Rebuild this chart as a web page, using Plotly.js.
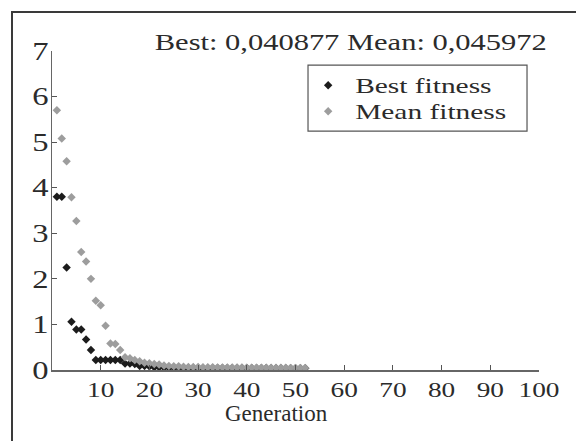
<!DOCTYPE html>
<html>
<head>
<meta charset="utf-8">
<script src="https://cdn.plot.ly/plotly-3.0.1.min.js"></script>
<style>
  html, body { margin: 0; padding: 0; background: #ffffff; }
  #chart { position: absolute; left: 0; top: 0; width: 576px; height: 441px; }
  #frame { position: absolute; left: 11px; top: 11px; width: 570px; height: 440px;
           border-top: 2px solid #3a3a3a; border-left: 2px solid #3a3a3a; pointer-events: none; }
</style>
</head>
<body>
<div id="chart"></div>
<div id="frame"></div>
<script>
// Data
const generations = [1,2,3,4,5,6,7,8,9,10,11,12,13,14,15,16,17,18,19,20,21,22,23,24,25,26,27,28,29,30,31,32,33,34,35,36,37,38,39,40,41,42,43,44,45,46,47,48,49,50,51,52];
const bestFitness = [3.80,3.80,2.25,1.06,0.89,0.89,0.67,0.44,0.22,0.22,0.22,0.22,0.22,0.22,0.14,0.14,0.13,0.09,0.09,0.08,0.06,0.06,0.055,
  0.052,0.050,0.049,0.048,0.047,0.046,0.046,0.045,0.045,0.044,0.044,0.044,0.043,0.043,0.043,0.043,0.042,0.042,0.042,0.042,0.042,0.041,0.041,0.041,0.041,0.041,0.041,0.041,0.040877];
const meanFitness = [5.70,5.08,4.58,3.79,3.27,2.59,2.38,2.00,1.52,1.42,0.97,0.58,0.57,0.44,0.28,0.26,0.22,0.19,0.16,0.15,0.13,0.12,0.10,0.09,0.085,0.08,0.072,
  0.068,0.066,0.064,0.062,0.060,0.059,0.058,0.057,0.056,0.055,0.054,0.053,0.052,0.051,0.051,0.050,0.050,0.049,0.049,0.048,0.048,0.047,0.047,0.046,0.045972];
const seriesNames = ["Best fitness", "Mean fitness"];
const titleText = "Best: 0,040877 Mean: 0,045972";
const xAxisTitle = "Generation";
const xTickValues = [10,20,30,40,50,60,70,80,90,100];
const yTickValues = [0,1,2,3,4,5,6,7];

const serif = "Liberation Serif, Times New Roman, serif";
const ink = "#2b2b2b";

const traces = [
  { x: generations, y: bestFitness, name: seriesNames[0], type: "scatter", mode: "markers",
    marker: { symbol: "diamond", size: 6.5, color: "#1c1c1c" } },
  { x: generations, y: meanFitness, name: seriesNames[1], type: "scatter", mode: "markers",
    marker: { symbol: "diamond", size: 6.5, color: "#9d9d9d" } }
];

const layout = {
  width: 576, height: 441,
  margin: { l: 52, r: 37, t: 51, b: 71, pad: 0 },
  paper_bgcolor: "rgba(0,0,0,0)",
  plot_bgcolor: "rgba(0,0,0,0)",
  showlegend: true,
  title: { text: titleText, x: 0.609, xanchor: "center", xref: "container",
           y: 0.906, yanchor: "middle", yref: "container",
           font: { family: serif, size: 24, color: ink } },
  xaxis: {
    range: [0, 100], tickvals: xTickValues, ticks: "inside", ticklen: 5, tickcolor: "#555",
    showline: true, linecolor: "#666", linewidth: 1.5, showgrid: false, zeroline: false,
    tickfont: { family: serif, size: 21, color: ink }
  },
  yaxis: {
    range: [0, 7], tickvals: yTickValues, ticks: "inside", ticklen: 5, tickcolor: "#555",
    showline: true, linecolor: "#666", linewidth: 1.5, showgrid: false, zeroline: false,
    tickfont: { family: serif, size: 25, color: ink }, ticklabelstandoff: -3
  },
  legend: {
    x: 0.526, y: 0.956, xanchor: "left", yanchor: "top",
    bgcolor: "rgba(0,0,0,0)", borderwidth: 0,
    font: { family: serif, size: 21, color: ink },
    tracegroupgap: 0
  },
  annotations: [
    { text: xAxisTitle, xref: "paper", yref: "paper", x: 0.462, y: -0.135,
      xanchor: "center", yanchor: "middle", showarrow: false,
      font: { family: serif, size: 23, color: ink } }
  ],
  shapes: [
    { type: "rect", xref: "paper", yref: "paper", x0: 0.5257, x1: 0.9754, y0: 0.749, y1: 0.956,
      line: { color: "#555", width: 1.2 }, fillcolor: "rgba(255,255,255,0)" }
  ]
};

// The reference typesetting is horizontally wide; stretch the rendered glyphs to match
function stretchText(selector, factor) {
  document.querySelectorAll(selector).forEach(function (t) {
    const len = t.getComputedTextLength();
    if (len > 0) {
      t.setAttribute("textLength", (len * factor).toFixed(1));
      t.setAttribute("lengthAdjust", "spacingAndGlyphs");
    }
  });
}

Plotly.newPlot("chart", traces, layout, { displayModeBar: false, staticPlot: true }).then(function () {
  stretchText("text.gtitle", 1.27);
  stretchText(".xtick text", 1.3);
  stretchText(".ytick text", 1.3);
  stretchText("text.legendtext", 1.4);
  // let the widened legend labels show, shift them right and tighten the row spacing
  document.querySelectorAll(".legend [clip-path]").forEach(function (g) { g.removeAttribute("clip-path"); });
  document.querySelectorAll("text.legendtext").forEach(function (t) {
    t.setAttribute("x", (parseFloat(t.getAttribute("x") || "0") + 7).toString());
  });
  const rows = document.querySelectorAll(".legend g.traces");
  let y0 = null, x0 = 0;
  rows.forEach(function (g, i) {
    const m = /translate\(\s*([-\d.]+)[ ,]+([-\d.]+)\s*\)/.exec(g.getAttribute("transform") || "");
    if (!m) return;
    if (y0 === null) { x0 = parseFloat(m[1]); y0 = parseFloat(m[2]); }
    g.setAttribute("transform", "translate(" + x0 + "," + (y0 + i * 26) + ")");
  });
});
</script>
</body>
</html>
